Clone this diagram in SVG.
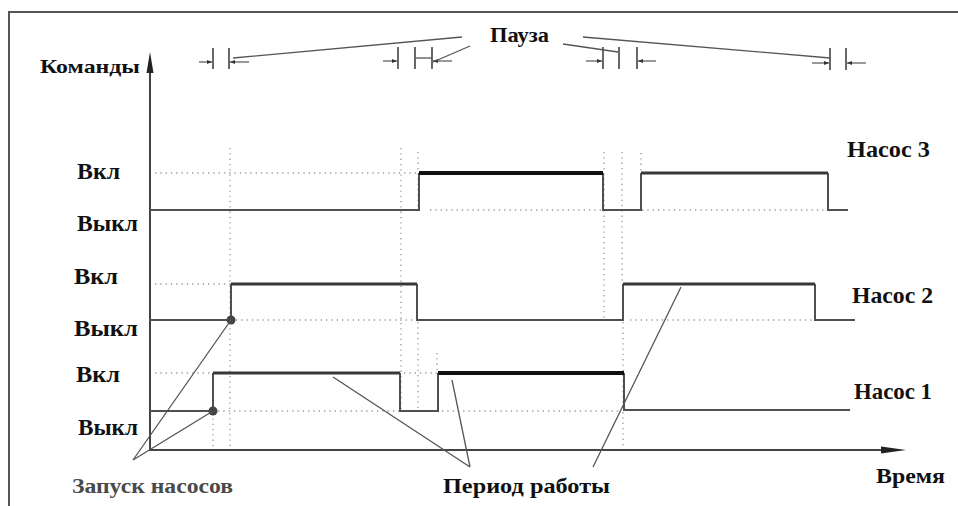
<svg xmlns="http://www.w3.org/2000/svg" width="958" height="506" viewBox="0 0 958 506">
<style>
text{font-family:"Liberation Serif","Times New Roman",serif;font-weight:bold;font-size:20px;fill:#111}
.lv{font-size:23px}
.gray{fill:#4a4a4a}
.dot{stroke:#9a9a9a;stroke-width:1.3;stroke-dasharray:1.3 4;fill:none}
.sig{stroke:#505050;stroke-width:2;fill:none}
.on{stroke:#383838;stroke-width:3;fill:none}
.thick{stroke:#111;stroke-width:4;fill:none}
.lead{stroke:#555;stroke-width:1.3;fill:none}
.tick{stroke:#444;stroke-width:1.6}
.dim{stroke:#555;stroke-width:1.2;fill:none;marker-end:url(#ah)}
</style>
<defs>
<marker id="ah" viewBox="0 0 10 10" refX="10" refY="5" markerWidth="5" markerHeight="5" orient="auto" markerUnits="userSpaceOnUse"><path d="M0,1 L10,5 L0,9 z" fill="#333"/></marker>
</defs>
<rect width="958" height="506" fill="#fff"/>
<g id="frame"><path d="M9,506 V12 H958" stroke="#555" stroke-width="2" fill="none"/></g>

<g id="grid">
<path class="dot" d="M155,173 H419 M430,210 H828 M155,284 H231 M236,320 H417 M630,320 H815 M155,373 H213 M404,373 H438 M218,411 H400 M442,411 H620"/>
<path class="dot" d="M230,148 V450 M213,376 V450 M401,148 V410 M418,152 V208 M418,322 V410 M437,353 V372 M604,152 V318 M622,152 V282 M623,322 V450 M641,153 V171"/>
</g>

<g id="axes">
<path d="M150,70 V450 H884" stroke="#444" stroke-width="2" fill="none"/>
<path d="M150,52 L146.5,73 L153.5,73 z" fill="#222"/>
<path d="M906,450 L881,446.5 L881,453.5 z" fill="#222"/>
<text x="40" y="73" style="font-size:19px" textLength="100" lengthAdjust="spacingAndGlyphs">Команды</text>
<text x="876" y="483" style="font-size:21px" textLength="69" lengthAdjust="spacingAndGlyphs">Время</text>
</g>

<g id="pump3">
<path class="sig" d="M150,210 H419 V173 M603,173 V210 H641 V173 M828,173 V210 H848"/>
<path class="thick" d="M419,173 H603"/>
<path class="on" d="M641,173 H828"/>
<text class="lv" x="77" y="179" textLength="43" lengthAdjust="spacingAndGlyphs">Вкл</text>
<text class="lv" x="77" y="231" textLength="61" lengthAdjust="spacingAndGlyphs">Выкл</text>
<text class="lv" x="847" y="157" textLength="83" lengthAdjust="spacingAndGlyphs">Насос 3</text>
</g>

<g id="pump2">
<path class="sig" d="M150,320 H231 V284 M417,284 V320 H623 V284 M815,284 V320 H855"/>
<path class="on" d="M231,284 H417 M623,284 H815"/>
<circle cx="231" cy="320" r="4.5" fill="#444"/>
<text class="lv" x="74" y="284" textLength="44" lengthAdjust="spacingAndGlyphs">Вкл</text>
<text class="lv" x="74" y="336" textLength="64" lengthAdjust="spacingAndGlyphs">Выкл</text>
<text class="lv" x="852" y="303" textLength="81" lengthAdjust="spacingAndGlyphs">Насос 2</text>
</g>

<g id="pump1">
<path class="sig" d="M150,411 H213 V373 M400,373 V411 H438 V373 M624,373 V410 H850"/>
<path class="on" d="M213,373 H400"/>
<path class="thick" d="M438,373 H624"/>
<circle cx="213" cy="411" r="4.5" fill="#444"/>
<text class="lv" x="76" y="382" textLength="44" lengthAdjust="spacingAndGlyphs">Вкл</text>
<text class="lv" x="78" y="435" textLength="60" lengthAdjust="spacingAndGlyphs">Выкл</text>
<text class="lv" x="854" y="399" textLength="78" lengthAdjust="spacingAndGlyphs">Насос 1</text>
</g>

<g id="pauses">
<path class="tick" d="M213,48 V69 M229,48 V69 M398,47 V69 M415,47 V69 M432,47 V69 M603,47 V69 M619,47 V69 M637,47 V69 M830,48 V70 M846,48 V70"/>
<path class="dim" d="M199,62 H212"/>
<path class="dim" d="M249,62 H230"/>
<path class="dim" d="M383,61 H397"/>
<path class="lead" d="M415,58 H432"/>
<path class="dim" d="M452,61 H433"/>
<path class="dim" d="M586,61 H602"/>
<path class="dim" d="M656,61 H638"/>
<path class="dim" d="M812,63 H829"/>
<path class="dim" d="M866,63 H847"/>
<path class="lead" d="M233,58 L462,37 M433,62 L470,46 M563,44 L618,52 M583,37 L830,58"/>
<text x="490" y="42" textLength="59" lengthAdjust="spacingAndGlyphs">Пауза</text>
</g>

<g id="connectors">
<path class="lead" d="M133,460 L231,320 M133,460 L213,411 M333,377 L470,467 M452,380 L470,467 M593,467 L681,287"/>
</g>

<g id="notes">
<text class="gray" x="72" y="493" textLength="161" lengthAdjust="spacingAndGlyphs">Запуск насосов</text>
<text x="443" y="493" style="font-size:21px" textLength="167" lengthAdjust="spacingAndGlyphs">Период работы</text>
</g>
</svg>
